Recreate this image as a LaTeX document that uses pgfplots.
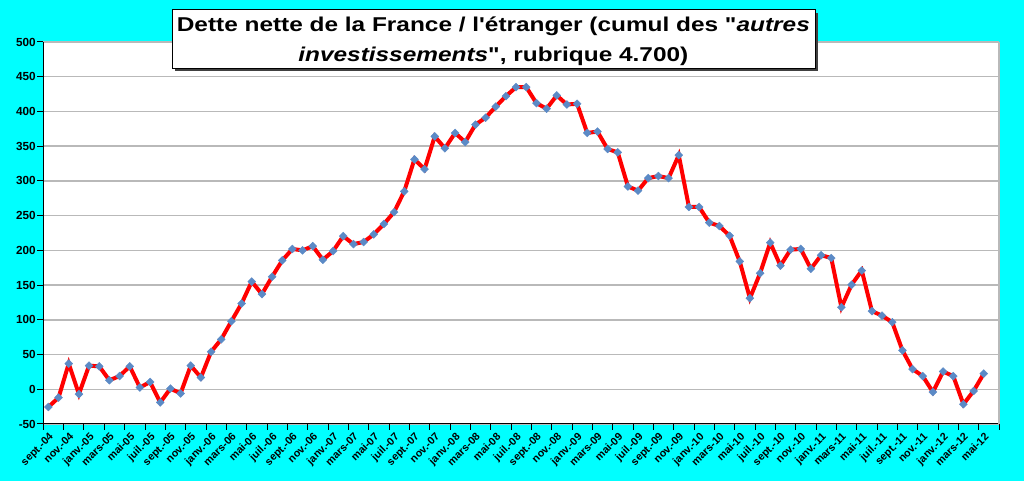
\documentclass[border=0pt]{standalone}
\usepackage{graphicx}
\usepackage{pgfplots}
\pgfplotsset{compat=1.18}
\usepackage{fontspec}
\setmainfont{Liberation Sans}
\newfontfamily\titlefont{Liberation Sans}
\definecolor{bgc}{RGB}{0,255,255}
\definecolor{mk}{RGB}{91,138,198}
\definecolor{gridc}{RGB}{185,185,185}
\pgfplotstableread{
i v
0 -25.5
1 -12
2 37
3 -7
4 34
5 33
6 13
7 19
8 33
9 2.5
10 10.5
11 -19
12 1
13 -6
14 34
15 17
16 54
17 72
18 98
19 123.5
20 155
21 137
22 162
23 185.5
24 202
25 200
26 206
27 186.5
28 199
29 220.5
30 209
31 212
32 223
33 238
34 255
35 285
36 331
37 317
38 364
39 347
40 369
41 356
42 381
43 391
44 407
45 422
46 435
47 435
48 412
49 404
50 423
51 410
52 411
53 369
54 371
55 346
56 341
57 292
58 286
59 304
60 307
61 304
62 337
63 262.5
64 262.5
65 240
66 235
67 221
68 184
69 131
70 167
71 211
72 178
73 201
74 202
75 173.5
76 193
77 189
78 118
79 150.5
80 171
81 112.5
82 106
83 96.5
84 56
85 29
86 19
87 -4
88 25.5
89 19
90 -21.5
91 -2.5
92 22.5
}\dette
\begin{document}
\begin{tikzpicture}
\fill[bgc] (0,0) rectangle (768pt,360.75pt);
\useasboundingbox (0,0) rectangle (768pt,360.75pt);
\begin{axis}[at={(32.5pt,42.75pt)}, anchor=south west, scale only axis,
  width=716.75pt, height=286.5pt,
  xmin=-0.5, xmax=93.5, ymin=-50, ymax=500,
  axis background/.style={fill=white},
  axis x line*=bottom, axis y line*=left,
  axis line style={-, black, line width=0.75pt},
  ytick={-50,0,...,500}, ymajorgrids, grid style={gridc, line width=1.1pt},
  xtick={0,2,...,92},
  xticklabels={sept.-04,nov.-04,
    janv.-05,mars-05,mai-05,juil.-05,sept.-05,nov.-05,
    janv.-06,mars-06,mai-06,juil.-06,sept.-06,nov.-06,
    janv.-07,mars-07,mai-07,juil.-07,sept.-07,nov.-07,
    janv.-08,mars-08,mai-08,juil.-08,sept.-08,nov.-08,
    janv.-09,mars-09,mai-09,juil.-09,sept.-09,nov.-09,
    janv.-10,mars-10,mai-10,juil.-10,sept.-10,nov.-10,
    janv.-11,mars-11,mai-11,juil.-11,sept.-11,nov.-11,
    janv.-12,mars-12,mai-12},
  minor xtick={-0.5,1.5,...,93.5},
  major x tick style={draw=none},
  tick align=outside, major tick length=4.5pt, minor tick length=4.5pt,
  tick style={black, line width=0.75pt},
  /pgf/number format/assume math mode=true,
  yticklabel style={font=\bfseries\fontsize{8.8}{10}\selectfont, inner sep=1pt},
  xticklabel style={font=\bfseries\fontsize{8}{9}\selectfont, rotate=45, anchor=north east, inner sep=1pt},
  after end axis/.code={\draw[gridc, line width=1.1pt] (rel axis cs:1,0) -- (rel axis cs:1,1);},
  clip=false]
\addplot[red, line width=3pt, mark=square*, mark size=2.1pt,
  mark options={fill=mk, draw=mk, line width=0.3pt, solid, rotate=45}] table[x=i, y=v] {\dette};
\end{axis}
\fill[black!75] (131.25pt,307.5pt) rectangle (613.5pt,351.25pt);
\draw[fill=white, draw=black, line width=0.75pt] (129pt,309.25pt) rectangle (611.25pt,353.75pt);
\node[anchor=base, inner sep=0pt, font=\titlefont\bfseries\fontsize{15}{20}\selectfont] at (370pt,337pt)
  {\scalebox{1.22}[1]{Dette nette de la France / l'étranger (cumul des "\textit{autres}}};
\node[anchor=base, inner sep=0pt, font=\titlefont\bfseries\fontsize{15}{20}\selectfont] at (370pt,314.5pt)
  {\scalebox{1.22}[1]{\textit{investissements}", rubrique 4.700)}};
\end{tikzpicture}
\end{document}
